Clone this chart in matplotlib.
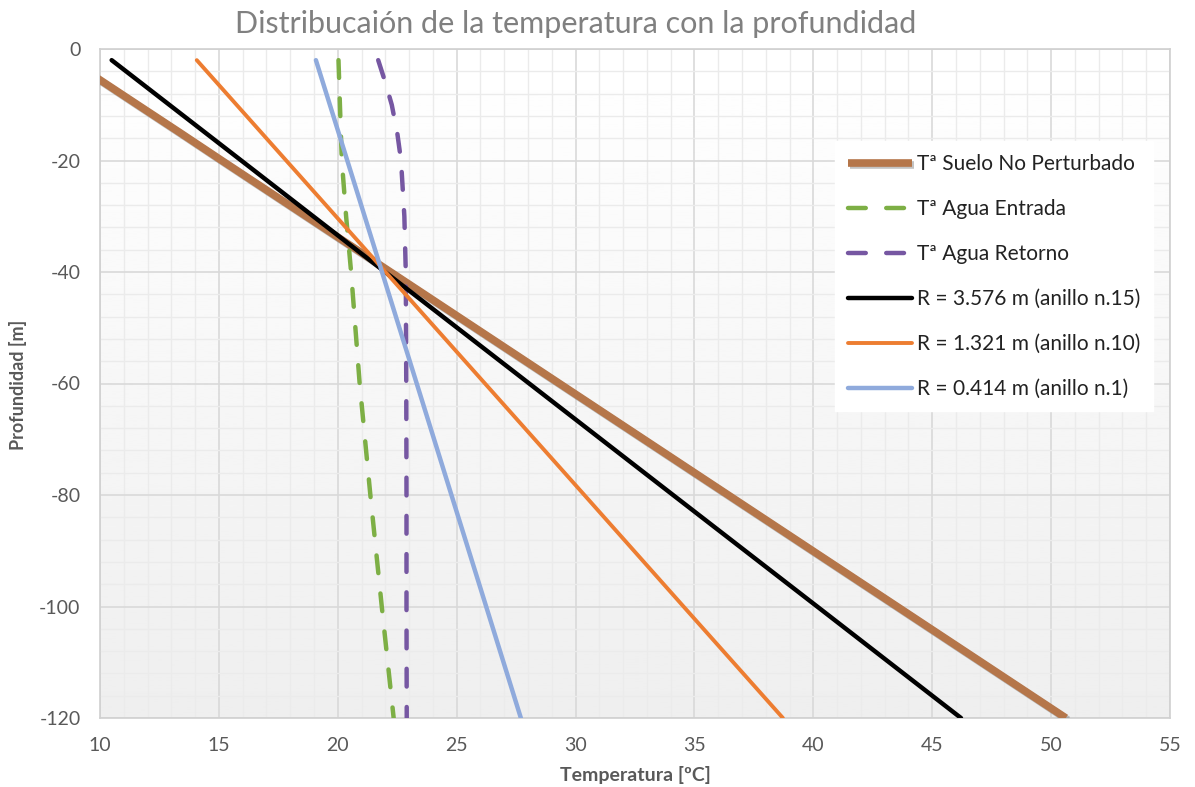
import numpy as np
import matplotlib
matplotlib.use("Agg")
import matplotlib.pyplot as plt
import matplotlib.patheffects as pe
from matplotlib.ticker import MultipleLocator

plt.rcParams['font.family'] = ['Lato', 'DejaVu Sans']
plt.rcParams['axes.unicode_minus'] = False

# depth [m] (plotted as negative)
prof = [0, 2, 6, 10, 15, 20, 30, 40, 60, 80, 100, 120]
prof_r = [2, 20, 40, 60, 80, 100, 120]

t_suelo = [8.03, 8.74, 10.16, 11.58, 13.36, 15.12, 18.67, 22.22, 29.32, 36.42, 43.52, 50.62]
t_entrada = [None, 20.03, 20.06, 20.09, 20.13, 20.17, 20.35, 20.56, 20.92, 21.37, 21.85, 22.35]
t_retorno = [None, 21.70, 22.00, 22.27, 22.50, 22.66, 22.80, 22.86, 22.88, 22.89, 22.89, 22.90]

t_r15 = [10.49, 15.94, 21.99, 28.05, 34.10, 40.16, 46.21]
t_r10 = [14.07, 17.83, 22.01, 26.19, 30.37, 34.54, 38.72]
t_r1 = [19.08, 20.40, 21.86, 23.32, 24.78, 26.24, 27.70]

labels = ["Tª Suelo No Perturbado", "Tª Agua Entrada", "Tª Agua Retorno",
          "R = 3.576 m (anillo n.15)", "R = 1.321 m (anillo n.10)", "R = 0.414 m (anillo n.1)"]

fig = plt.figure(figsize=(11.95, 7.87), dpi=100)
ax = fig.add_axes([100/1195, 1-718/787, 1070/1195, 669/787])

# background gradient
grad = np.linspace(1.0, 0.935, 256).reshape(-1, 1)
ax.imshow(grad, cmap='gray', vmin=0, vmax=1, extent=[10, 55, -120, 0],
          aspect='auto', zorder=0, origin='upper')

ax.set_xlim(10, 55)
ax.set_ylim(-120, 0)
ax.xaxis.set_major_locator(MultipleLocator(5))
ax.xaxis.set_minor_locator(MultipleLocator(1))
ax.yaxis.set_major_locator(MultipleLocator(20))
ax.yaxis.set_minor_locator(MultipleLocator(4))
ax.grid(which='major', color='#D9D9D9', lw=1.2, zorder=1)
ax.grid(which='minor', color='#EBEBEB', lw=1.0, zorder=1)
ax.set_axisbelow(True)
ax.tick_params(which='both', length=0, labelsize=14, colors='#595959', pad=14)
for s in ax.spines.values():
    s.set_color('#D0D0D0')
    s.set_linewidth(1.2)

d = [-v for v in prof]
dr = [-v for v in prof_r]

l1, = ax.plot(t_suelo, d, color='#B5764A', lw=5.5, solid_capstyle='butt', zorder=3)
l1.set_path_effects([pe.SimpleLineShadow(offset=(1.5, -1.5), alpha=0.35, shadow_color='#555555'),
                     pe.Normal()])
l2, = ax.plot(t_entrada[1:], d[1:], color='#7DAF45', lw=3.2, dashes=(4, 4.6),
              dash_capstyle='round', zorder=4)
l3, = ax.plot(t_retorno[1:], d[1:], color='#7657A2', lw=3.2, dashes=(4, 4.6),
              dash_capstyle='round', zorder=4)
l4, = ax.plot(t_r15, dr, color='black', lw=3.2, solid_capstyle='round', zorder=5)
l5, = ax.plot(t_r10, dr, color='#ED7D31', lw=2.8, solid_capstyle='round', zorder=5)
l6, = ax.plot(t_r1, dr, color='#8FAADC', lw=3.2, solid_capstyle='round', zorder=5)

leg = ax.legend([l1, l2, l3, l4, l5, l6], labels, loc='upper left',
                bbox_to_anchor=(0.687, 0.862), fontsize=15, frameon=True,
                fancybox=False, handlelength=3.1, handletextpad=0.25,
                labelspacing=1.2, borderpad=0.6, borderaxespad=0)
leg.get_frame().set_facecolor('white')
leg.get_frame().set_edgecolor('white')
leg.get_frame().set_alpha(1)
for t in leg.get_texts():
    t.set_color('#222222')
leg.set_zorder(10)

fig.text(0.482, 1-24/787, "Distribucaión de la temperatura con la profundidad",
         ha='center', va='center', fontsize=22, color='#808080')
fig.text(635/1195, 1-775/787, "Temperatura [ºC]", ha='center', va='center',
         fontsize=14, fontweight='bold', color='#595959')
fig.text(18/1195, 1-385/787, "Profundidad [m]", ha='center', va='center',
         rotation=90, fontsize=13, fontweight='bold', color='#595959')

fig.savefig('out.png', dpi=100)
